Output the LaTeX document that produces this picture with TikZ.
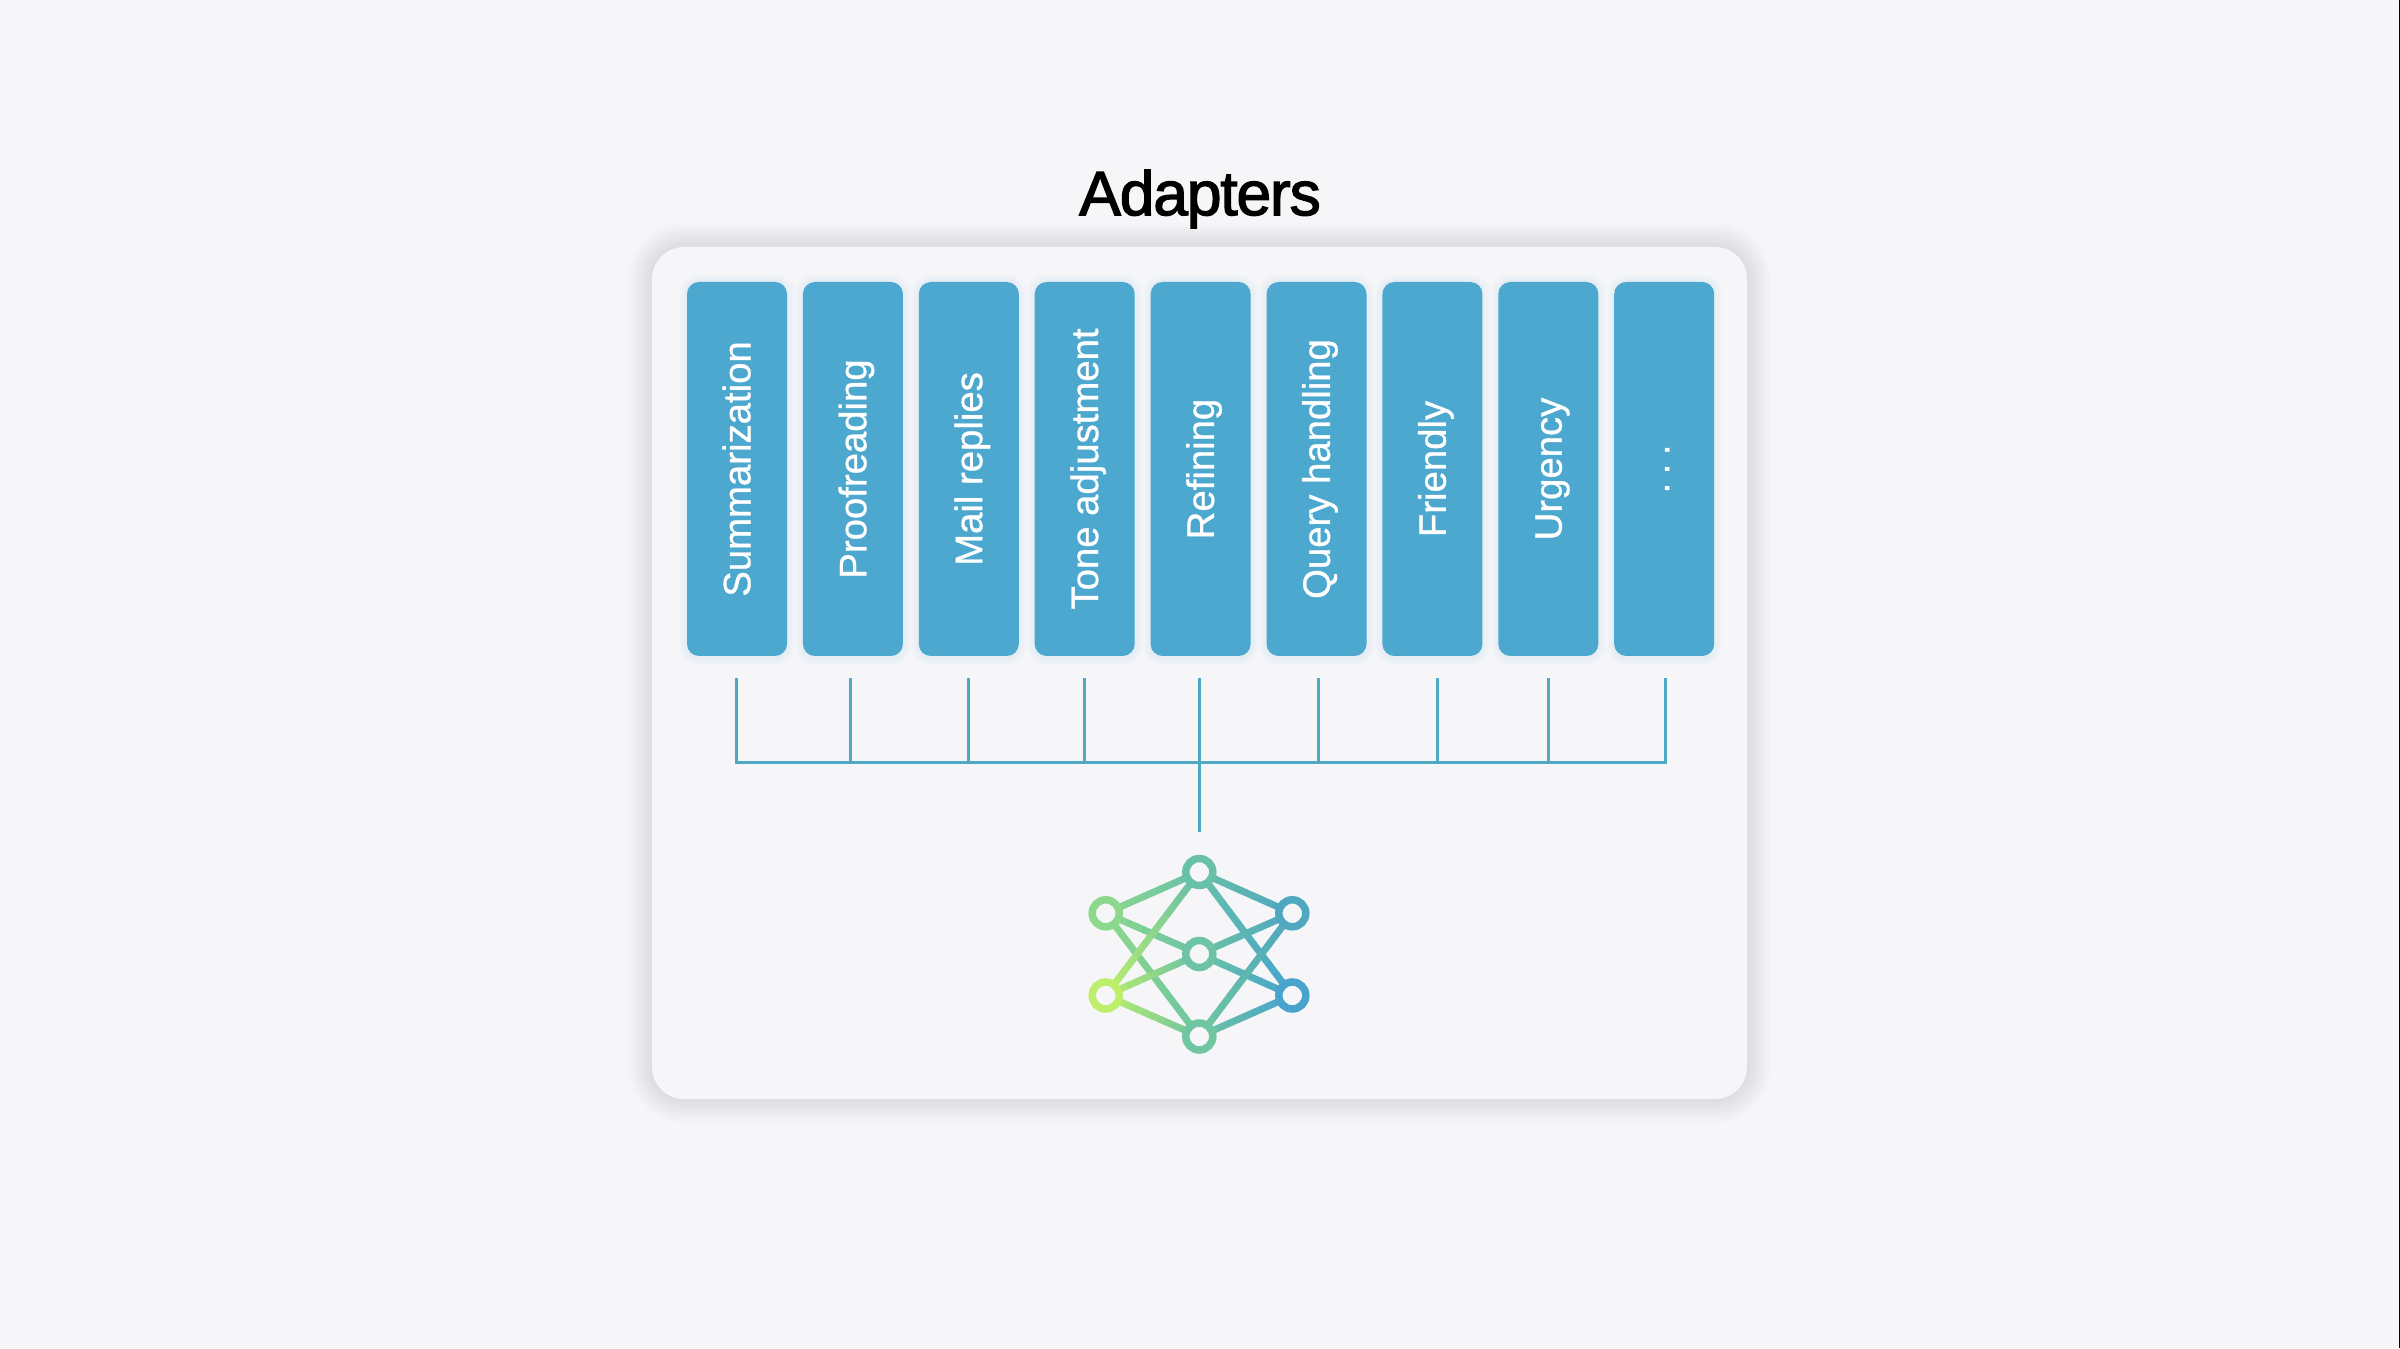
\documentclass[tikz,border=0pt]{standalone}
\usepackage{fontspec}
\setmainfont[FakeBold=0.8]{Liberation Sans}
\newfontfamily\titlefont[FakeBold=2,LetterSpace=-2]{Liberation Sans}
\usetikzlibrary{calc}
\definecolor{bgcol}{HTML}{F6F6F9}
\definecolor{boxcol}{HTML}{4CA8CE}
\definecolor{buscol}{HTML}{4FA9C4}
% colours of the network, one per node
\definecolor{ctop}{HTML}{68C0A8}
\definecolor{clt}{HTML}{8CD88C}
\definecolor{clb}{HTML}{BDEE6C}
\definecolor{cmid}{HTML}{6CC4A4}
\definecolor{cbot}{HTML}{70C6A0}
\definecolor{crt}{HTML}{50A8C0}
\definecolor{crb}{HTML}{48A4CC}
\newcommand{\vlabel}[1]{\rotatebox{90}{\smash{\raisebox{-3.8pt}{#1}}}}
\tikzset{
  adapter/.style={fill=boxcol,rounded corners=0.12cm,minimum width=1cm,minimum height=3.74cm,
    inner sep=0pt,text=white,font=\fontsize{10.9pt}{13pt}\selectfont},
  busline/.style={draw=buscol,line width=0.03cm},
  netline/.style={line width=0.07cm,line cap=round},
  neuron/.style={circle,fill=bgcol,line width=0.075cm,minimum size=0.27cm,inner sep=0pt}
}
\begin{document}
\begin{tikzpicture}
  \useasboundingbox (0,0) rectangle (24,13.48);
  \fill[bgcol] (0,0) rectangle (24,13.48);
  \fill[black] (23.985,0) rectangle (24,13.48);

  \node (title) at (12.0,11.49) {\titlefont\fontsize{17.8pt}{20pt}\selectfont Adapters};

  % panel with soft shadow
  \foreach \w in {0.04,0.08,...,0.52} {
    \draw[black,opacity=0.007,line width=\w cm,rounded corners=0.32cm]
      (6.52,2.49) rectangle (17.47,11.01);
  }
  \node[fill=bgcol,rounded corners=0.32cm,minimum width=10.95cm,minimum height=8.52cm,inner sep=0pt]
    (panel) at (11.995,6.75) {};

  % glow below the boxes
  \foreach \x in {7.37,8.529,9.688,10.847,12.006,13.165,14.324,15.483,16.642} {
    \foreach \w in {0.04,0.08,...,0.2} {
      \draw[boxcol,opacity=0.025,line width=\w cm,rounded corners=0.12cm]
        (\x-0.5,6.90) rectangle (\x+0.5,10.66);
    }
  }

  \node[adapter] (summ) at (7.37,8.79) {\vlabel{Summarization}};
  \node[adapter] (proof) at (8.529,8.79) {\vlabel{Proofreading}};
  \node[adapter] (mail) at (9.688,8.79) {\vlabel{Mail replies}};
  \node[adapter] (tone) at (10.847,8.79) {\vlabel{Tone adjustment}};
  \node[adapter] (refine) at (12.006,8.79) {\vlabel{Refining}};
  \node[adapter] (query) at (13.165,8.79) {\vlabel{Query handling}};
  \node[adapter] (friend) at (14.324,8.79) {\vlabel{Friendly}};
  \node[adapter] (urgent) at (15.483,8.79) {\vlabel{Urgency}};
  \node[adapter] (more) at (16.642,8.79) {\rotatebox{90}{\smash{\raisebox{-1.4pt}{.\kern2.4pt.\kern2.4pt.}}}};

  % tree of lines
  \coordinate (tsumm) at (7.36,6.70);
  \coordinate (tproof) at (8.50,6.70);
  \coordinate (tmail) at (9.68,6.70);
  \coordinate (ttone) at (10.84,6.70);
  \coordinate (trefine) at (11.99,6.70);
  \coordinate (tquery) at (13.18,6.70);
  \coordinate (tfriend) at (14.37,6.70);
  \coordinate (turgent) at (15.48,6.70);
  \coordinate (tmore) at (16.65,6.70);
  \coordinate (busy) at (0,5.853);
  \coordinate (stem) at (11.99,5.16);
  \draw[busline,line join=miter] (tsumm) -- (tsumm |- busy) -- (tmore |- busy) -- (tmore);
  \foreach \t in {tproof,tmail,ttone,tquery,tfriend,turgent} {
    \draw[busline] (\t) -- (\t |- busy);
  }
  \draw[busline] (trefine) -- (stem);

  % network
  \coordinate (top) at (11.993,4.76);
  \coordinate (lt) at (11.057,4.347);
  \coordinate (lb) at (11.057,3.525);
  \coordinate (mid) at (11.993,3.94);
  \coordinate (bot) at (11.993,3.115);
  \coordinate (rt) at (12.923,4.347);
  \coordinate (rb) at (12.923,3.525);
  \foreach \a/\b in {lt/top,lt/mid,lt/bot,lb/top,lb/mid,lb/bot,top/rt,top/rb,mid/rt,mid/rb,bot/rt,bot/rb} {
    \foreach \s in {0,...,11} {
      \pgfmathtruncatemacro{\p}{100-\s*100/11}
      \draw[netline,color=c\a!\p!c\b] ($(\a)!\s/12!(\b)$) -- ($(\a)!{(\s+1)/12}!(\b)$);
    }
  }
  \foreach \a in {top,lt,lb,mid,bot,rt,rb} {
    \node[neuron,draw=c\a] (n\a) at (\a) {};
  }
\end{tikzpicture}
\end{document}
